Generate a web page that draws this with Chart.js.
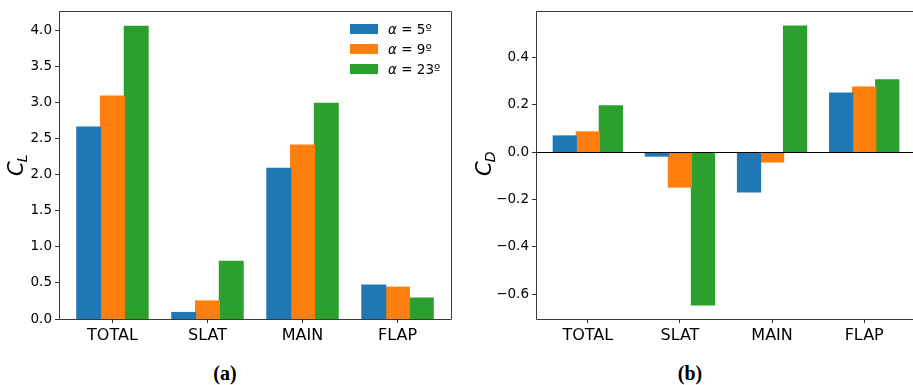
<!DOCTYPE html>
<html>
<head>
<meta charset="utf-8">
<script src="https://cdn.jsdelivr.net/npm/chart.js@4.4.0/dist/chart.umd.min.js"></script>
<style>
  body { margin: 0; width: 913px; height: 385px; overflow: hidden; background: #fff; position: relative; }
  canvas { position: absolute; top: 0; }
  #chartA { left: 0; }
  #chartB { left: 460px; }
  .cap { position: absolute; top: 362px; width: 100px; text-align: center; line-height: 20px;
         font: bold 20px "Liberation Serif", serif; color: #000; }
</style>
</head>
<body>
<canvas id="chartA" width="460" height="345"></canvas>
<canvas id="chartB" width="480" height="345"></canvas>
<div class="cap" style="left:175px">(a)</div>
<div class="cap" style="left:640px">(b)</div>
<script>
// categories and series
const parts = ["TOTAL", "SLAT", "MAIN", "FLAP"];
const angles = ["5º", "9º", "23º"];
const colors = ["#1f77b4", "#ff7f0e", "#2ca02c"];

// lift coefficient C_L
const cl5 = [2.66, 0.09, 2.09, 0.47];
const cl9 = [3.09, 0.25, 2.41, 0.44];
const cl23 = [4.06, 0.80, 2.99, 0.29];

// drag coefficient C_D
const cd5 = [0.069, -0.016, -0.168, 0.250];
const cd9 = [0.086, -0.147, -0.041, 0.276];
const cd23 = [0.196, -0.645, 0.534, 0.306];

// tick labels
const clTicks = [0, 0.5, 1.0, 1.5, 2.0, 2.5, 3.0, 3.5, 4.0];
const cdTicks = [-0.6, -0.4, -0.2, 0, 0.2, 0.4];

// frame, zero line, y label and legend
const deco = {
  id: "deco",
  afterDraw(chart, args, o) {
    const ctx = chart.ctx, a = chart.chartArea;
    const l = Math.round(a.left) + 0.5, t = Math.round(a.top) + 0.5;
    const r = Math.round(a.right) + 0.5, b = Math.round(a.bottom) + 0.5;
    ctx.save();
    if (o.zero) {
      const y0 = Math.round(chart.scales.y.getPixelForValue(0)) + 0.5;
      ctx.strokeStyle = "#000";
      ctx.lineWidth = 1.2;
      ctx.beginPath(); ctx.moveTo(a.left, y0); ctx.lineTo(a.right, y0); ctx.stroke();
    }
    ctx.strokeStyle = "#3a3a3a";
    ctx.lineWidth = 1;
    ctx.beginPath();
    ctx.moveTo(r, t); ctx.lineTo(l, t); ctx.lineTo(l, b); ctx.lineTo(r, b);
    if (o.rightSpine) ctx.lineTo(r, t);
    ctx.stroke();

    // axis title C_x, rotated
    ctx.translate(o.lx, 176);
    ctx.rotate(-Math.PI / 2);
    ctx.fillStyle = "#000";
    ctx.textBaseline = "alphabetic";
    ctx.font = "italic 21px 'DejaVu Sans'";
    ctx.fillText("C", 0, 0);
    const w = ctx.measureText("C").width;
    ctx.font = "italic 14px 'DejaVu Sans'";
    ctx.fillText(o.sub, w - 1, 4);
    ctx.setTransform(1, 0, 0, 1, 0, 0);

    if (o.legend) {
      chart.data.datasets.forEach((ds, i) => {
        const y = 24 + i * 20;
        ctx.fillStyle = ds.backgroundColor;
        ctx.fillRect(350, y, 28, 10);
        ctx.fillStyle = "#000";
        ctx.font = "italic 13.5px 'DejaVu Sans'";
        ctx.fillText("α", 388, y + 10);
        const aw = ctx.measureText("α").width;
        ctx.font = "13.5px 'DejaVu Sans'";
        ctx.fillText(" = " + angles[i], 388 + aw, y + 10);
      });
    }
    ctx.restore();
  }
};

function fmt(v) {
  if (Math.abs(v) < 1e-9) return "0.0";
  return (v < 0 ? "\u2212" : "") + Math.abs(v).toFixed(1);
}

function barChart(id, series, yMin, yMax, yTicks, axisW, padRight, deco_opts) {
  return new Chart(document.getElementById(id), {
    type: "bar",
    data: {
      labels: [0, 1, 2, 3],
      datasets: series.map((s, i) => ({
        label: "α = " + angles[i],
        data: s,
        backgroundColor: colors[i],
        borderWidth: 0,
        inflateAmount: 0.6,
        categoryPercentage: 0.75,
        barPercentage: 1.0
      }))
    },
    options: {
      responsive: false,
      animation: false,
      layout: { padding: { left: 0, right: padRight, top: 11, bottom: 0 } },
      plugins: { legend: { display: false }, tooltip: { enabled: false }, deco: deco_opts },
      scales: {
        x: {
          type: "linear",
          min: -0.5625, max: 3.5625,
          offset: false,
          afterBuildTicks: s => { s.ticks = parts.map((p, i) => ({ value: i })); },
          afterFit: s => { s.height = 26; },
          grid: { offset: false, drawOnChartArea: false, tickLength: 4, tickColor: "#333" },
          border: { display: false },
          ticks: {
            callback: v => parts[v],
            autoSkip: false, maxRotation: 0, padding: 3,
            color: "#000", font: { family: "DejaVu Sans", size: 16 }
          }
        },
        y: {
          min: yMin, max: yMax,
          afterBuildTicks: s => { s.ticks = yTicks.map(v => ({ value: v })); },
          afterFit: s => { s.width = axisW; },
          grid: { drawOnChartArea: false, tickLength: 4, tickColor: "#333" },
          border: { display: false },
          ticks: {
            callback: v => fmt(v),
            padding: 3,
            color: "#000", font: { family: "DejaVu Sans", size: 13.5 }
          }
        }
      }
    },
    plugins: [deco]
  });
}

barChart("chartA", [cl5, cl9, cl23], 0, 4.27, clTicks, 59, 9,
  { zero: false, legend: true, rightSpine: true, sub: "L", lx: 23 });
barChart("chartB", [cd5, cd9, cd23], -0.705, 0.597, cdTicks, 76, 24,
  { zero: true, legend: false, rightSpine: false, sub: "D", lx: 31 });
</script>
</body>
</html>
